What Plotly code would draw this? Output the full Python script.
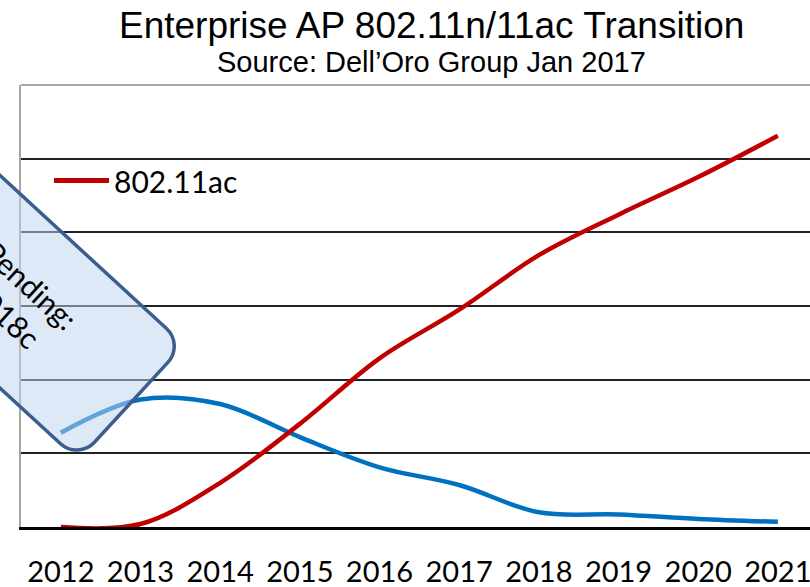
import numpy as np
import plotly.graph_objects as go

# ---------------- data ----------------
years = [2012, 2013, 2014, 2015, 2016, 2017, 2018, 2019, 2020, 2021]
tick_labels = ["2012", "2013", "2014", "2015", "2016", "2017", "2018", "2019", "2020", "2021"]
ac_values = [0.0, 0.04, 0.60, 1.40, 2.29, 2.95, 3.69, 4.24, 4.75, 5.31]   # 802.11ac
n_values = [1.28, 1.73, 1.67, 1.22, 0.81, 0.57, 0.20, 0.17, 0.11, 0.07]   # 802.11n
grid_vals = [1, 2, 3, 4, 5]
title_text = "Enterprise AP 802.11n/11ac Transition"
subtitle_text = "Source: Dell\u2019Oro Group Jan 2017"
legend_text = "802.11ac"
box_text = "Pending:<br>2018c"

# ---------------- layout geometry (pixels) ----------------
W, H = 810, 587
ML, MR, MT, MB = 21, 0, 85, 60
PW, PH = W - ML - MR, H - MT - MB


def px(x):
    return (x - ML) / PW


def py(y):
    return (H - MB - y) / PH


fig = go.Figure()
fig.add_trace(go.Scatter(x=years, y=n_values, mode="lines", name="802.11n",
                         line=dict(color="#0070C0", width=4.5, shape="spline"),
                         showlegend=False))
fig.add_trace(go.Scatter(x=years, y=ac_values, mode="lines", name="802.11ac",
                         line=dict(color="#C00000", width=4.5, shape="spline"),
                         showlegend=False))

shapes = []
# lightened region behind the (hidden) legend area
shapes.append(dict(type="rect", xref="paper", yref="paper", x0=0, x1=px(177), y0=py(490), y1=1,
                   fillcolor="rgba(255,255,255,0.5)", line=dict(width=0), layer="between"))
# top border line
shapes.append(dict(type="line", xref="paper", yref="paper", x0=0, x1=1, y0=1, y1=1,
                   line=dict(color="#8a8a8a", width=1.5), layer="between"))

# rotated rounded callout box
th = np.arctan(0.92)
U = np.array([np.cos(th), np.sin(th)])
V = np.array([-np.sin(th), np.cos(th)])
sw = 1.75
u0, u1 = 370.7 - 330, 370.7 - sw
v0, v1 = 127.3 + sw, 287.3 - sw
r = 24
k = 0.5523 * r


def P(u, v):
    p = u * U + v * V
    return f"{px(p[0]):.5f},{py(p[1]):.5f}"


path = (f"M{P(u0 + r, v0)} L{P(u1 - r, v0)} "
        f"C{P(u1 - r + k, v0)} {P(u1, v0 + r - k)} {P(u1, v0 + r)} "
        f"L{P(u1, v1 - r)} "
        f"C{P(u1, v1 - r + k)} {P(u1 - r + k, v1)} {P(u1 - r, v1)} "
        f"L{P(u0 + r, v1)} "
        f"C{P(u0 + r - k, v1)} {P(u0, v1 - r + k)} {P(u0, v1 - r)} "
        f"L{P(u0, v0 + r)} "
        f"C{P(u0, v0 + r - k)} {P(u0 + r - k, v0)} {P(u0 + r, v0)} Z")
shapes.append(dict(type="path", xref="paper", yref="paper", path=path,
                   fillcolor="rgba(192,213,240,0.52)", line=dict(color="#3C5E8E", width=3.5),
                   layer="above"))

# manual legend sample
shapes.append(dict(type="line", xref="paper", yref="paper", x0=px(54), x1=px(109),
                   y0=py(180.5), y1=py(180.5), line=dict(color="#C00000", width=5), layer="above"))

cu, cv = 216, 208
c = cu * U + cv * V

annotations = [
    dict(text=title_text, xref="paper", yref="paper", x=px(431.5), y=py(25),
         xanchor="center", yanchor="middle", showarrow=False,
         font=dict(family="Liberation Sans, Arial", size=37, color="black")),
    dict(text=subtitle_text, xref="paper", yref="paper", x=px(431), y=py(62),
         xanchor="center", yanchor="middle", showarrow=False,
         font=dict(family="Liberation Sans, Arial", size=29, color="black")),
    dict(text=legend_text, xref="paper", yref="paper", x=px(112), y=py(180.5),
         xanchor="left", yanchor="middle", showarrow=False,
         font=dict(family="Lato", size=30, color="black")),
    dict(text=box_text, xref="paper", yref="paper", x=px(c[0]), y=py(c[1]),
         xanchor="center", yanchor="middle", showarrow=False, textangle=np.degrees(th),
         align="center", font=dict(family="Lato", size=30, color="black")),
]

fig.update_layout(
    width=W, height=H,
    margin=dict(l=ML, r=MR, t=MT, b=MB, autoexpand=False),
    paper_bgcolor="white", plot_bgcolor="white",
    shapes=shapes, annotations=annotations,
    showlegend=False,
    xaxis=dict(range=[2011.5, 2011.5 + PW / 79.67], tickvals=years, ticktext=tick_labels,
               showgrid=False, zeroline=False, showline=True, linecolor="black", linewidth=3,
               ticks="", ticklabelstandoff=17, layer="below traces", automargin=False,
               ticklabeloverflow="allow",
               tickfont=dict(family="Lato", size=29, color="black")),
    yaxis=dict(range=[0, 6], tickvals=grid_vals, showticklabels=False, ticks="",
               showgrid=True, gridcolor="#222222", gridwidth=2, zeroline=False, automargin=False,
               showline=True, linecolor="#a6a6a6", linewidth=1.5, layer="below traces"),
)

fig.write_html("out.html", config={"displayModeBar": False},
               post_script="document.body.style.margin='0';document.body.style.overflow='hidden';")
